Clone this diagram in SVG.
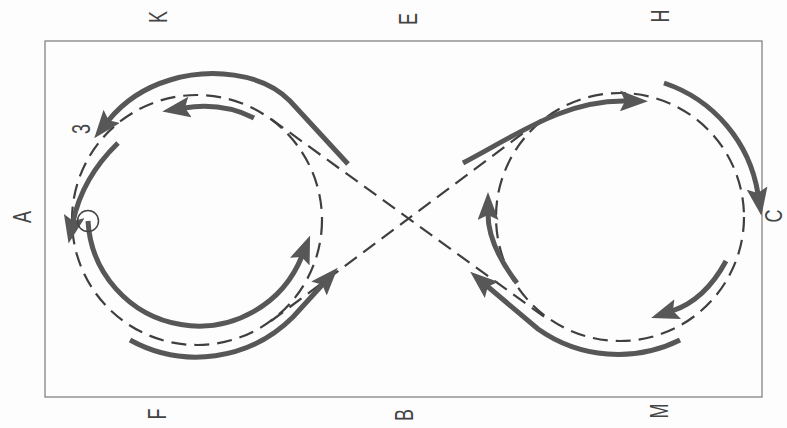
<svg xmlns="http://www.w3.org/2000/svg" width="787" height="428" viewBox="0 0 787 428">
<defs>
<marker id="ah" viewBox="0 0 28 21" markerWidth="28" markerHeight="21" refX="6" refY="10.5" orient="auto" markerUnits="userSpaceOnUse"><path d="M0,0 L28,10.5 L0,21 L5,10.5 Z" fill="#575757"/></marker>
<style>
.arena{fill:none;stroke:#7a7a7a;stroke-width:1.2}
.dash{fill:none;stroke:#3f3f3f;stroke-width:2.2;stroke-dasharray:15 8}
.track{fill:none;stroke:#575757;stroke-width:5}
.arr{marker-end:url(#ah)}
.lbl{font-family:"Liberation Sans",Arial,sans-serif;font-size:18px;fill:#444;text-anchor:middle}
</style>
</defs>
<rect width="787" height="428" fill="#fdfdfd"/>
<rect id="arena" class="arena" x="45" y="41" width="717" height="356"/>
<g id="labels">
<g id="label-K" transform="translate(158,17) rotate(-90) scale(1,1.4)"><text class="lbl" x="0" y="6.4">K</text></g>
<g id="label-E" transform="translate(408,19) rotate(-90) scale(1,1.4)"><text class="lbl" x="0" y="6.4">E</text></g>
<g id="label-H" transform="translate(660,16) rotate(-90) scale(1,1.4)"><text class="lbl" x="0" y="6.4">H</text></g>
<g id="label-A" transform="translate(22,217) rotate(-90) scale(1,1.4)"><text class="lbl" x="0" y="6.4">A</text></g>
<g id="label-C" transform="translate(774,216) rotate(-90) scale(1,1.3)"><text class="lbl" x="0" y="6.4">C</text></g>
<g id="label-F" transform="translate(157,414) rotate(-90) scale(1,1.4)"><text class="lbl" x="0" y="6.4">F</text></g>
<g id="label-B" transform="translate(404,415) rotate(-90) scale(1,1.4)"><text class="lbl" x="0" y="6.4">B</text></g>
<g id="label-M" transform="translate(659,411) rotate(-90) scale(1,1.4)"><text class="lbl" x="0" y="6.4">M</text></g>
<g id="label-3" transform="translate(81,129) rotate(-90) scale(1,1.4)"><text class="lbl" x="0" y="6.4">3</text></g>
</g>
<g id="figure-eight">
<circle class="dash" cx="197" cy="220" r="125"/>
<circle class="dash" cx="620" cy="217" r="124"/>
<path class="dash" d="M271 119 L546 318"/>
<path class="dash" d="M271 321 L546 116"/>
</g>
<g id="connectors">
<path class="track arr" d="M348 164 L290 101 C262 72 209 68 170 80 C140 89 120 106 108 121"/>
<path class="track arr" d="M254 118 Q222 102 184 108"/>
<path class="track arr" d="M118 143 Q82 178 73 222"/>
<path class="track arr" d="M88 221 A111 111 0 0 0 302 256"/>
<path class="track arr" d="M130 340 A137 137 0 0 0 293 317 L323 284"/>
<path class="track arr" d="M463 163 C520 133 565 100 626 101"/>
<path class="track arr" d="M664 83 A140 140 0 0 1 758 194"/>
<path class="track arr" d="M726 261 Q705 300 672 311"/>
<path class="track arr" d="M680 340 A139 139 0 0 1 538 329 L487 286"/>
<path class="track arr" d="M517 283 Q488 245 488 214"/>
</g>
<g id="start-point">
<circle cx="88" cy="221" r="10.5" fill="none" stroke="#444" stroke-width="1.5"/>
</g>
</svg>
